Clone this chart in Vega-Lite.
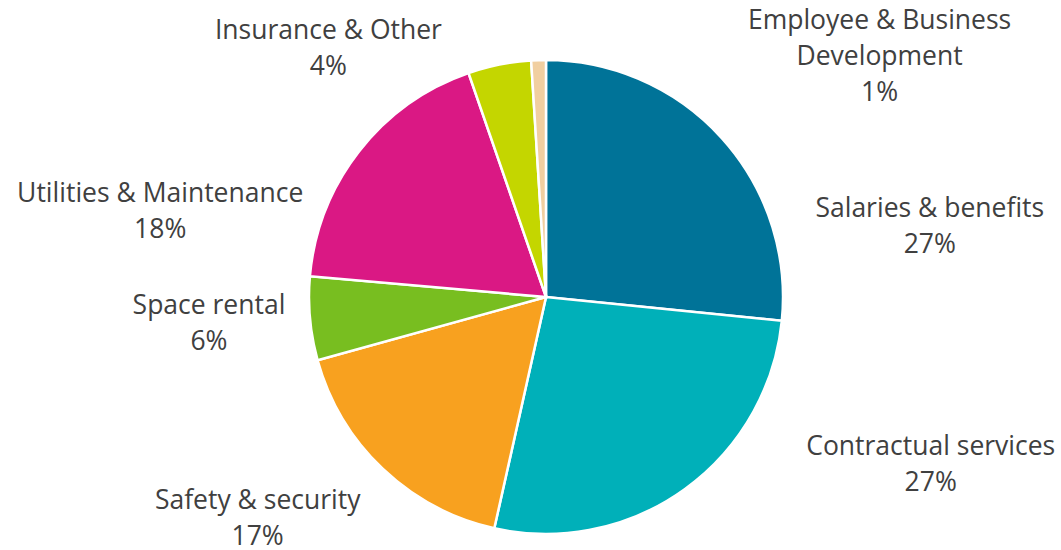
{
  "$schema": "https://vega.github.io/schema/vega-lite/v6.json",
  "width": 1030,
  "height": 506,
  "padding": {"left": 31, "top": 44, "right": 0, "bottom": 0},
  "autosize": {"type": "none"},
  "background": "white",
  "config": {"view": {"stroke": null}},
  "data": {
    "values": [
      {"order": 1, "category": "Salaries & benefits", "value": 26.6, "label": "Salaries & benefits\n27%"},
      {"order": 2, "category": "Contractual services", "value": 26.9, "label": "Contractual services\n27%"},
      {"order": 3, "category": "Safety & security", "value": 17.2, "label": "Safety & security\n17%"},
      {"order": 4, "category": "Space rental", "value": 5.7, "label": "Space rental\n6%"},
      {"order": 5, "category": "Utilities & Maintenance", "value": 18.3, "label": "Utilities & Maintenance\n18%"},
      {"order": 6, "category": "Insurance & Other", "value": 4.3, "label": "Insurance & Other\n4%"},
      {"order": 7, "category": "Employee & Business Development", "value": 1.0, "label": "Employee & Business\nDevelopment\n1%"}
    ]
  },
  "encoding": {
    "theta": {"field": "value", "type": "quantitative", "stack": true},
    "order": {"field": "order", "type": "quantitative"},
    "color": {
      "field": "category",
      "type": "nominal",
      "legend": null,
      "sort": null,
      "scale": {
        "domain": ["Salaries & benefits", "Contractual services", "Safety & security", "Space rental", "Utilities & Maintenance", "Insurance & Other", "Employee & Business Development"],
        "range": ["#007398", "#00B0B9", "#F8A11F", "#78BE20", "#DA1884", "#C4D600", "#F1CFA0"]
      }
    }
  },
  "layer": [
    {"mark": {"type": "arc", "outerRadius": 237, "stroke": "white", "strokeWidth": 2.5}},
    {
      "mark": {"type": "text", "radius": 237, "dx": 208, "dy": 71, "font": "Open Sans", "fontSize": 26.5, "lineHeight": 36, "lineBreak": "\n", "baseline": "middle", "align": "center"},
      "encoding": {"color": {"value": "#404040"}, "detail": {"field": "category"}, "text": {"condition": {"test": "datum.order === 1", "field": "label"}, "value": ""}}
    },
    {
      "mark": {"type": "text", "radius": 237, "dx": 246, "dy": -42, "font": "Open Sans", "fontSize": 26.5, "lineHeight": 36, "lineBreak": "\n", "baseline": "middle", "align": "center"},
      "encoding": {"color": {"value": "#404040"}, "detail": {"field": "category"}, "text": {"condition": {"test": "datum.order === 2", "field": "label"}, "value": ""}}
    },
    {
      "mark": {"type": "text", "radius": 237, "dx": -125, "dy": 32, "font": "Open Sans", "fontSize": 26.5, "lineHeight": 36, "lineBreak": "\n", "baseline": "middle", "align": "center"},
      "encoding": {"color": {"value": "#404040"}, "detail": {"field": "category"}, "text": {"condition": {"test": "datum.order === 3", "field": "label"}, "value": ""}}
    },
    {
      "mark": {"type": "text", "radius": 237, "dx": -101, "dy": -13, "font": "Open Sans", "fontSize": 26.5, "lineHeight": 36, "lineBreak": "\n", "baseline": "middle", "align": "center"},
      "encoding": {"color": {"value": "#404040"}, "detail": {"field": "category"}, "text": {"condition": {"test": "datum.order === 4", "field": "label"}, "value": ""}}
    },
    {
      "mark": {"type": "text", "radius": 237, "dx": -199, "dy": 43, "font": "Open Sans", "fontSize": 26.5, "lineHeight": 36, "lineBreak": "\n", "baseline": "middle", "align": "center"},
      "encoding": {"color": {"value": "#404040"}, "detail": {"field": "category"}, "text": {"condition": {"test": "datum.order === 5", "field": "label"}, "value": ""}}
    },
    {
      "mark": {"type": "text", "radius": 237, "dx": -171, "dy": -34, "font": "Open Sans", "fontSize": 26.5, "lineHeight": 36, "lineBreak": "\n", "baseline": "middle", "align": "center"},
      "encoding": {"color": {"value": "#404040"}, "detail": {"field": "category"}, "text": {"condition": {"test": "datum.order === 6", "field": "label"}, "value": ""}}
    },
    {
      "mark": {"type": "text", "radius": 237, "dx": 341, "dy": -39, "font": "Open Sans", "fontSize": 26.5, "lineHeight": 36, "lineBreak": "\n", "baseline": "middle", "align": "center"},
      "encoding": {"color": {"value": "#404040"}, "detail": {"field": "category"}, "text": {"condition": {"test": "datum.order === 7", "field": "label"}, "value": ""}}
    }
  ]
}
